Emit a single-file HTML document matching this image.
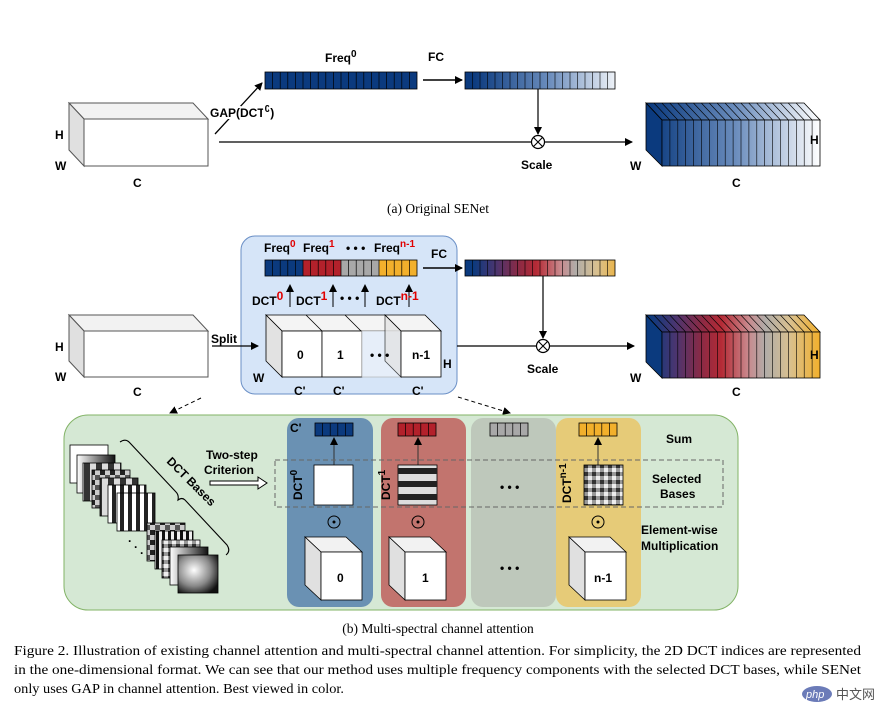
<!DOCTYPE html>
<html><head><meta charset="utf-8"><style>
html,body{margin:0;padding:0;background:#fff;}
svg{display:block;font-family:"Liberation Sans",Arial,sans-serif;}
.b{font-weight:bold;font-size:12px;fill:#000;}
.r{fill:#e00000;}
.cap{font-family:"Liberation Serif",serif;font-size:13.5px;fill:#000;}
.halo{paint-order:stroke;stroke:#fff;stroke-width:4px;stroke-linejoin:round;}
</style></head><body>
<svg width="876" height="705" viewBox="0 0 876 705" xmlns="http://www.w3.org/2000/svg">
<defs>
<marker id="ah" markerWidth="8" markerHeight="8" refX="7" refY="4" orient="auto" markerUnits="userSpaceOnUse"><path d="M0,0 L8,4 L0,8 z" fill="#000"/></marker>
<linearGradient id="gBlue" x1="473" x2="624" y1="0" y2="0" gradientUnits="userSpaceOnUse"><stop offset="0" stop-color="#0b3a7e"/><stop offset="0.5" stop-color="#6a8cbc"/><stop offset="1" stop-color="#ffffff"/></linearGradient>
<linearGradient id="gBlueO" x1="650" x2="820" y1="0" y2="0" gradientUnits="userSpaceOnUse"><stop offset="0" stop-color="#0b3a7e"/><stop offset="0.5" stop-color="#6a8cbc"/><stop offset="1" stop-color="#ffffff"/></linearGradient>
<linearGradient id="gMulti" x1="473" x2="624" y1="0" y2="0" gradientUnits="userSpaceOnUse"><stop offset="0" stop-color="#0b3a7e"/><stop offset="0.15" stop-color="#4a3570"/><stop offset="0.3" stop-color="#8a2a45"/><stop offset="0.42" stop-color="#b52a35"/><stop offset="0.58" stop-color="#c98a8e"/><stop offset="0.68" stop-color="#b0aca8"/><stop offset="0.82" stop-color="#d8c090"/><stop offset="1" stop-color="#f2b02c"/></linearGradient>
<linearGradient id="gMultiO" x1="650" x2="820" y1="0" y2="0" gradientUnits="userSpaceOnUse"><stop offset="0" stop-color="#0b3a7e"/><stop offset="0.15" stop-color="#4a3570"/><stop offset="0.3" stop-color="#8a2a45"/><stop offset="0.42" stop-color="#b52a35"/><stop offset="0.58" stop-color="#c98a8e"/><stop offset="0.68" stop-color="#b0aca8"/><stop offset="0.82" stop-color="#d8c090"/><stop offset="1" stop-color="#f2b02c"/></linearGradient>
<pattern id="v4" width="8" height="40" patternUnits="userSpaceOnUse"><rect width="8" height="40" fill="#fff"/><rect width="4" height="40" fill="#222"/></pattern>
<pattern id="v6" width="12" height="40" patternUnits="userSpaceOnUse"><rect width="12" height="40" fill="#ddd"/><rect width="6" height="40" fill="#333"/></pattern>
<pattern id="v3" width="6" height="40" patternUnits="userSpaceOnUse"><rect width="6" height="40" fill="#eee"/><rect width="3" height="40" fill="#111"/></pattern>
<pattern id="chk" width="10" height="10" patternUnits="userSpaceOnUse"><rect width="10" height="10" fill="#ccc"/><rect width="5" height="5" fill="#222"/><rect x="5" y="5" width="5" height="5" fill="#555"/></pattern>
<pattern id="chk2" width="8" height="8" patternUnits="userSpaceOnUse"><rect width="8" height="8" fill="#999"/><rect width="4" height="4" fill="#333"/><rect x="4" y="4" width="4" height="4" fill="#eee"/></pattern>
<linearGradient id="hg" x1="0" x2="1" y1="0" y2="0"><stop offset="0" stop-color="#fff"/><stop offset="1" stop-color="#111"/></linearGradient>
<radialGradient id="blob" cx="0.4" cy="0.4" r="0.7"><stop offset="0" stop-color="#fff"/><stop offset="0.6" stop-color="#888"/><stop offset="1" stop-color="#111"/></radialGradient>
</defs>

<!-- ============ (a) ============ -->
<polygon points="69,103 193,103 208,119 84,119" fill="#f2f2f2" stroke="#555" stroke-width="1"/>
<polygon points="69,103 84,119 84,166 69,150" fill="#e0e0e0" stroke="#555" stroke-width="1"/>
<rect x="84" y="119" width="124" height="47" fill="#fff" stroke="#555" stroke-width="1"/>
<text class="b" x="55" y="139">H</text><text class="b" x="55" y="170">W</text><text class="b" x="133" y="187">C</text>
<line x1="215" y1="134" x2="262" y2="83" stroke="#000" stroke-width="1.3" marker-end="url(#ah)"/>
<text class="b halo" x="210" y="117">GAP(DCT<tspan dy="-5" font-size="10">0</tspan><tspan dy="5">)</tspan></text>
<rect x="265" y="72" width="152" height="17" fill="#0b3a7e" stroke="#000" stroke-width="0.8"/>
<path d="M272.6,72v17m7.6-17v17m7.6-17v17m7.6-17v17m7.6-17v17m7.6-17v17m7.6-17v17m7.6-17v17m7.6-17v17m7.6-17v17m7.6-17v17m7.6-17v17m7.6-17v17m7.6-17v17m7.6-17v17m7.6-17v17m7.6-17v17m7.6-17v17m7.6-17v17" stroke="#000" stroke-width="0.7"/>
<text class="b" x="325" y="62">Freq<tspan dy="-5" font-size="10">0</tspan></text>
<text class="b" x="428" y="61">FC</text>
<line x1="423" y1="80" x2="462" y2="80" stroke="#000" stroke-width="1.5" marker-end="url(#ah)"/>
<rect x="465" y="72" width="150" height="17" fill="url(#gBlue)" stroke="#000" stroke-width="0.8"/>
<path d="M472.5,72v17m7.5-17v17m7.5-17v17m7.5-17v17m7.5-17v17m7.5-17v17m7.5-17v17m7.5-17v17m7.5-17v17m7.5-17v17m7.5-17v17m7.5-17v17m7.5-17v17m7.5-17v17m7.5-17v17m7.5-17v17m7.5-17v17m7.5-17v17m7.5-17v17" stroke="#000" stroke-width="0.6"/>
<line x1="538" y1="89" x2="538" y2="134" stroke="#000" stroke-width="1.2" marker-end="url(#ah)"/>
<line x1="219" y1="142" x2="632" y2="142" stroke="#000" stroke-width="1.3" marker-end="url(#ah)"/>
<circle cx="538" cy="142" r="6.5" fill="#fff" stroke="#000" stroke-width="1.2"/>
<path d="M533.5,137.5l9,9m0-9l-9,9" stroke="#000" stroke-width="1.1"/>
<text class="b" x="521" y="169">Scale</text>
<g>
<polygon points="646,103 804,103 820,120 662,120" fill="url(#gBlueO)" stroke="#000" stroke-width="0.8"/>
<polygon points="646,103 662,120 662,166 646,150" fill="#0b3a7e" stroke="#000" stroke-width="0.8"/>
<rect x="662" y="120" width="158" height="46" fill="url(#gBlueO)" stroke="#000" stroke-width="0.8"/>
<path d="M662,120 l-16,-17 m23.9,17 l-16,-17 m23.9,17 l-16,-17 m23.9,17 l-16,-17 m23.9,17 l-16,-17 m23.9,17 l-16,-17 m23.9,17 l-16,-17 m23.9,17 l-16,-17 m23.9,17 l-16,-17 m23.9,17 l-16,-17 m23.9,17 l-16,-17 m23.9,17 l-16,-17 m23.9,17 l-16,-17 m23.9,17 l-16,-17 m23.9,17 l-16,-17 m23.9,17 l-16,-17 m23.9,17 l-16,-17 m23.9,17 l-16,-17 m23.9,17 l-16,-17 m23.9,17 l-16,-17" stroke="#000" stroke-width="0.6" fill="none"/>
<path d="M669.9,120v46m7.9-46v46m7.9-46v46m7.9-46v46m7.9-46v46m7.9-46v46m7.9-46v46m7.9-46v46m7.9-46v46m7.9-46v46m7.9-46v46m7.9-46v46m7.9-46v46m7.9-46v46m7.9-46v46m7.9-46v46m7.9-46v46m7.9-46v46m7.9-46v46" stroke="#000" stroke-width="0.6"/>
</g>
<text class="b" x="810" y="144">H</text><text class="b" x="630" y="170">W</text><text class="b" x="732" y="187">C</text>
<text class="cap" x="438" y="213" text-anchor="middle" font-size="12">(a) Original SENet</text>

<!-- ============ (b) ============ -->
<rect x="241" y="236" width="216" height="158" rx="14" fill="#d6e5f8" stroke="#6a8fc6" stroke-width="1"/>
<polygon points="69,315 193,315 208,331 84,331" fill="#f2f2f2" stroke="#555"/>
<polygon points="69,315 84,331 84,377 69,361" fill="#e0e0e0" stroke="#555"/>
<rect x="84" y="331" width="124" height="46" fill="#fff" stroke="#555"/>
<text class="b" x="55" y="351">H</text><text class="b" x="55" y="381">W</text><text class="b" x="133" y="396">C</text>
<text class="b" x="211" y="343">Split</text>
<line x1="212" y1="346" x2="258" y2="346" stroke="#000" stroke-width="1.3" marker-end="url(#ah)"/>
<polygon points="266,315 385,315 401,331 282,331" fill="#f4f4f4" stroke="#000" stroke-width="0.8"/>
<path d="M306,315 l16,16 M345,315 l16,16" stroke="#000" stroke-width="0.8"/>
<polygon points="385,315 425,315 441,331 401,331" fill="#f4f4f4" stroke="#000" stroke-width="0.8"/>
<polygon points="266,315 282,331 282,377 266,361" fill="#e2e2e2" stroke="#000" stroke-width="0.8"/>
<rect x="282" y="331" width="40" height="46" fill="#fff" stroke="#000" stroke-width="0.8"/>
<rect x="322" y="331" width="40" height="46" fill="#fff" stroke="#000" stroke-width="0.8"/>
<rect x="362" y="331" width="39" height="46" fill="#e6eef9" stroke="#aaa" stroke-width="0.6"/>
<polygon points="385,315 401,331 401,377 385,361" fill="#e2e2e2" stroke="#000" stroke-width="0.8" opacity="0.7"/>
<rect x="401" y="331" width="40" height="46" fill="#fff" stroke="#000" stroke-width="0.8"/>
<text class="b" x="297" y="359">0</text><text class="b" x="337" y="359">1</text><text class="b" x="370" y="359">• • •</text><text class="b" x="412" y="359">n-1</text>
<text class="b" x="443" y="368">H</text><text class="b" x="253" y="382">W</text>
<text class="b" x="294" y="395">C'</text><text class="b" x="333" y="395">C'</text><text class="b" x="412" y="395">C'</text>
<g stroke="#000" stroke-width="1" marker-end="url(#ah)">
<line x1="290" y1="307" x2="290" y2="285"/><line x1="333" y1="307" x2="333" y2="285"/><line x1="365" y1="307" x2="365" y2="285"/><line x1="409" y1="307" x2="409" y2="285"/>
</g>
<text class="b" x="252" y="305">DCT<tspan class="r" dy="-5">0</tspan></text>
<text class="b" x="296" y="305">DCT<tspan class="r" dy="-5">1</tspan></text>
<text class="b" x="340" y="302">• • •</text>
<text class="b" x="376" y="305">DCT<tspan class="r" dy="-5">n-1</tspan></text>
<text class="b" x="264" y="252">Freq<tspan class="r" dy="-5" font-size="10">0</tspan></text>
<text class="b" x="303" y="252">Freq<tspan class="r" dy="-5" font-size="10">1</tspan></text>
<text class="b" x="346" y="252">• • •</text>
<text class="b" x="374" y="252">Freq<tspan class="r" dy="-5" font-size="10">n-1</tspan></text>
<rect x="265" y="260" width="38" height="16" fill="#0b3a7e"/><rect x="303" y="260" width="38" height="16" fill="#b3212b"/><rect x="341" y="260" width="38" height="16" fill="#a8a8a8"/><rect x="379" y="260" width="38" height="16" fill="#f2b02c"/>
<rect x="265" y="260" width="152" height="16" fill="none" stroke="#000" stroke-width="0.8"/>
<path d="M272.6,260v16m7.6-16v16m7.6-16v16m7.6-16v16m7.6-16v16m7.6-16v16m7.6-16v16m7.6-16v16m7.6-16v16m7.6-16v16m7.6-16v16m7.6-16v16m7.6-16v16m7.6-16v16m7.6-16v16m7.6-16v16m7.6-16v16m7.6-16v16m7.6-16v16" stroke="#000" stroke-width="0.7"/>
<text class="b" x="431" y="258">FC</text>
<line x1="423" y1="268" x2="462" y2="268" stroke="#000" stroke-width="1.5" marker-end="url(#ah)"/>
<rect x="465" y="260" width="150" height="16" fill="url(#gMulti)" stroke="#000" stroke-width="0.8"/>
<path d="M472.5,260v16m7.5-16v16m7.5-16v16m7.5-16v16m7.5-16v16m7.5-16v16m7.5-16v16m7.5-16v16m7.5-16v16m7.5-16v16m7.5-16v16m7.5-16v16m7.5-16v16m7.5-16v16m7.5-16v16m7.5-16v16m7.5-16v16m7.5-16v16m7.5-16v16" stroke="#000" stroke-width="0.6"/>
<line x1="543" y1="276" x2="543" y2="338" stroke="#000" stroke-width="1.2" marker-end="url(#ah)"/>
<line x1="457" y1="346" x2="634" y2="346" stroke="#000" stroke-width="1.3" marker-end="url(#ah)"/>
<circle cx="543" cy="346" r="6.5" fill="#fff" stroke="#000" stroke-width="1.2"/>
<path d="M538.5,341.5l9,9m0-9l-9,9" stroke="#000" stroke-width="1.1"/>
<text class="b" x="527" y="373">Scale</text>
<g transform="translate(0,212)">
<polygon points="646,103 804,103 820,120 662,120" fill="url(#gMultiO)" stroke="#000" stroke-width="0.8"/>
<polygon points="646,103 662,120 662,166 646,150" fill="#0b3a7e" stroke="#000" stroke-width="0.8"/>
<rect x="662" y="120" width="158" height="46" fill="url(#gMultiO)" stroke="#000" stroke-width="0.8"/>
<path d="M662,120 l-16,-17 m23.9,17 l-16,-17 m23.9,17 l-16,-17 m23.9,17 l-16,-17 m23.9,17 l-16,-17 m23.9,17 l-16,-17 m23.9,17 l-16,-17 m23.9,17 l-16,-17 m23.9,17 l-16,-17 m23.9,17 l-16,-17 m23.9,17 l-16,-17 m23.9,17 l-16,-17 m23.9,17 l-16,-17 m23.9,17 l-16,-17 m23.9,17 l-16,-17 m23.9,17 l-16,-17 m23.9,17 l-16,-17 m23.9,17 l-16,-17 m23.9,17 l-16,-17 m23.9,17 l-16,-17" stroke="#000" stroke-width="0.6" fill="none"/>
<path d="M669.9,120v46m7.9-46v46m7.9-46v46m7.9-46v46m7.9-46v46m7.9-46v46m7.9-46v46m7.9-46v46m7.9-46v46m7.9-46v46m7.9-46v46m7.9-46v46m7.9-46v46m7.9-46v46m7.9-46v46m7.9-46v46m7.9-46v46m7.9-46v46m7.9-46v46" stroke="#000" stroke-width="0.6"/>
</g>
<text class="b" x="810" y="359">H</text><text class="b" x="630" y="382">W</text><text class="b" x="732" y="396">C</text>
<line x1="201" y1="398" x2="170" y2="413" stroke="#000" stroke-width="1" stroke-dasharray="4,3" marker-end="url(#ah)"/>
<line x1="458" y1="397" x2="510" y2="413" stroke="#000" stroke-width="1" stroke-dasharray="4,3" marker-end="url(#ah)"/>

<rect x="64" y="415" width="674" height="195" rx="24" fill="#d5e8d4" stroke="#82b366" stroke-width="1"/>
<rect x="287" y="418" width="86" height="189" rx="12" fill="#6a91b3"/>
<rect x="381" y="418" width="85" height="189" rx="12" fill="#c2746e"/>
<rect x="471" y="418" width="85" height="189" rx="12" fill="#bec8bb"/>
<rect x="556" y="418" width="85" height="189" rx="12" fill="#e6cb78"/>
<rect x="315" y="423" width="38" height="13" fill="#0b3a7e" stroke="#000" stroke-width="0.8"/>
<rect x="398" y="423" width="38" height="13" fill="#b3212b" stroke="#000" stroke-width="0.8"/>
<rect x="490" y="423" width="38" height="13" fill="#a8a8a8" stroke="#000" stroke-width="0.8"/>
<rect x="579" y="423" width="38" height="13" fill="#f2b02c" stroke="#000" stroke-width="0.8"/>
<path d="M322.6,423v13m7.6-13v13m7.6-13v13m7.6-13v13 M405.6,423v13m7.6-13v13m7.6-13v13m7.6-13v13 M497.6,423v13m7.6-13v13m7.6-13v13m7.6-13v13 M586.6,423v13m7.6-13v13m7.6-13v13m7.6-13v13" stroke="#000" stroke-width="0.7"/>
<text class="b" x="290" y="432">C'</text>
<g stroke="#333" stroke-width="1" marker-end="url(#ah)">
<line x1="334" y1="465" x2="334" y2="438"/><line x1="418" y1="465" x2="418" y2="438"/><line x1="598" y1="465" x2="598" y2="438"/>
</g>
<rect x="275" y="460" width="448" height="47" fill="none" stroke="#666" stroke-width="1" stroke-dasharray="5,3"/>
<rect x="314" y="465" width="39" height="40" fill="#fff" stroke="#000" stroke-width="0.8"/>
<g><rect x="398" y="465" width="39" height="40" fill="#ddd" stroke="#000" stroke-width="0.8"/>
<rect x="398" y="468" width="39" height="6" fill="#222"/><rect x="398" y="481" width="39" height="6" fill="#222"/><rect x="398" y="494" width="39" height="6" fill="#222"/></g>
<rect x="584" y="465" width="39" height="40" fill="url(#chk2)" stroke="#000" stroke-width="0.8"/>
<text class="b" transform="translate(302,500) rotate(-90)">DCT<tspan dy="-5" font-size="10">0</tspan></text>
<text class="b" transform="translate(390,500) rotate(-90)">DCT<tspan dy="-5" font-size="10">1</tspan></text>
<text class="b" transform="translate(571,503) rotate(-90)">DCT<tspan dy="-5" font-size="10">n-1</tspan></text>
<text class="b" x="500" y="491">• • •</text>
<text class="b" x="500" y="572">• • •</text>
<g fill="none" stroke="#000" stroke-width="1"><circle cx="334" cy="522" r="6"/><circle cx="418" cy="522" r="6"/><circle cx="598" cy="522" r="6"/></g>
<g fill="#000"><circle cx="334" cy="522" r="1.5"/><circle cx="418" cy="522" r="1.5"/><circle cx="598" cy="522" r="1.5"/></g>
<g stroke="#000" stroke-width="0.8">
<polygon points="305,537 346,537 362,552 321,552" fill="#f2f2f2"/><polygon points="305,537 321,552 321,600 305,585" fill="#e0e0e0"/><rect x="321" y="552" width="41" height="48" fill="#fff"/>
<polygon points="389,537 430,537 446,552 405,552" fill="#f2f2f2"/><polygon points="389,537 405,552 405,600 389,585" fill="#e0e0e0"/><rect x="405" y="552" width="41" height="48" fill="#fff"/>
<polygon points="569,537 610,537 626,552 585,552" fill="#f2f2f2"/><polygon points="569,537 585,552 585,600 569,585" fill="#e0e0e0"/><rect x="585" y="552" width="41" height="48" fill="#fff"/>
</g>
<text class="b" x="337" y="582">0</text><text class="b" x="422" y="582">1</text><text class="b" x="594" y="582">n-1</text>
<text class="b" x="666" y="443">Sum</text>
<text class="b" x="652" y="483">Selected</text><text class="b" x="660" y="498">Bases</text>
<text class="b" x="641" y="534">Element-wise</text><text class="b" x="641" y="550">Multiplication</text>
<text class="b" x="206" y="459">Two-step</text><text class="b" x="204" y="474">Criterion</text>
<path d="M210,481 h48 v-4 l9,6 l-9,6 v-4 h-48 z" fill="#fff" stroke="#000" stroke-width="1"/>
<g stroke="#000" stroke-width="0.8">
<rect x="70" y="445" width="38" height="38" fill="#fff"/>
<rect x="77" y="455" width="38" height="38" fill="url(#hg)"/>
<rect x="83" y="463" width="38" height="38" fill="url(#v6)"/>
<rect x="92" y="470" width="38" height="38" fill="url(#chk)"/>
<rect x="100" y="478" width="38" height="38" fill="url(#v6)"/>
<rect x="108" y="485" width="38" height="38" fill="url(#v4)"/>
<rect x="117" y="493" width="38" height="38" fill="url(#v4)"/>
<rect x="147" y="523" width="38" height="38" fill="url(#chk)"/>
<rect x="155" y="531" width="38" height="38" fill="url(#v3)"/>
<rect x="162" y="540" width="38" height="38" fill="url(#chk2)"/>
<rect x="170" y="547" width="38" height="38" fill="url(#hg)"/>
<rect x="178" y="555" width="40" height="38" fill="url(#blob)"/>
</g>
<text class="b" x="128" y="545">·</text><text class="b" x="134" y="551">·</text><text class="b" x="140" y="557">·</text>
<path d="M120,442 q6,-4 10,1 L176,492 q3,3 2,8 q4,-3 7,0 L227,545 q4,6 -1,10" fill="none" stroke="#000" stroke-width="1.1"/>
<text class="b" transform="translate(166,462) rotate(45)">DCT Bases</text>

<text class="cap" x="438" y="633" text-anchor="middle" font-size="12">(b) Multi-spectral channel attention</text>
<text class="cap" x="14" y="655" textLength="847" lengthAdjust="spacingAndGlyphs">Figure 2. Illustration of existing channel attention and multi-spectral channel attention. For simplicity, the 2D DCT indices are represented</text>
<text class="cap" x="14" y="674" textLength="847" lengthAdjust="spacingAndGlyphs">in the one-dimensional format. We can see that our method uses multiple frequency components with the selected DCT bases, while SENet</text>
<text class="cap" x="14" y="693" textLength="330" lengthAdjust="spacingAndGlyphs">only uses GAP in channel attention. Best viewed in color.</text>
<ellipse cx="817" cy="694" rx="15" ry="8" fill="#6b7bb8"/>
<text x="806" y="698" font-size="11" fill="#fff" font-style="italic">php</text>
<text x="836" y="699" font-size="13" fill="#555" font-family="'Noto Sans CJK SC',sans-serif">中文网</text>
</svg>
</body></html>
